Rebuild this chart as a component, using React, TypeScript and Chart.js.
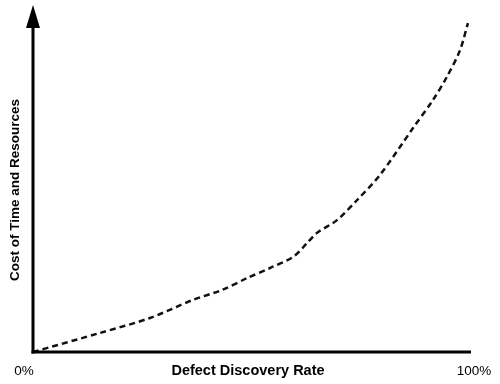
import React, { useEffect, useRef } from "react";
import { Chart, registerables } from "chart.js";

Chart.register(...registerables);

// Defect discovery rate (%) and relative cost (0-100)
const discoveryRate = [0, 15.3, 26.7, 36.5, 43.2, 48.9, 54.1, 59.4, 62.6, 64.8, 69.4, 74.0, 79.2, 86.8, 91.3, 94.5, 97.5, 99.3];
const costValues = [0, 5.5, 9.8, 15.0, 17.9, 21.3, 24.2, 27.4, 31.4, 34.3, 38.0, 43.8, 51.0, 64.6, 72.6, 79.3, 87.0, 94.8];
const xTickLabels = ["0%", "100%"];
const xTitle = "Defect Discovery Rate";
const yTitle = "Cost of Time and Resources";

const FONT = "'Liberation Sans', Arial, Helvetica, sans-serif";

const axesPlugin = {
  id: "customAxes",
  afterDraw(chart: any) {
    const { ctx, chartArea } = chart;
    const { left, right, top, bottom } = chartArea;
    ctx.save();
    ctx.strokeStyle = "#000";
    ctx.fillStyle = "#000";
    ctx.lineWidth = 3;
    // x axis
    ctx.beginPath();
    ctx.moveTo(left - 1.5, bottom);
    ctx.lineTo(right, bottom);
    ctx.stroke();
    // y axis
    ctx.beginPath();
    ctx.moveTo(left, bottom + 1.5);
    ctx.lineTo(left, top + 20);
    ctx.stroke();
    // arrow head
    ctx.beginPath();
    ctx.moveTo(left, top);
    ctx.lineTo(left - 7, top + 23);
    ctx.lineTo(left + 7, top + 23);
    ctx.closePath();
    ctx.fill();

    // tick labels
    ctx.font = `13.5px ${FONT}`;
    ctx.textBaseline = "middle";
    ctx.textAlign = "center";
    ctx.fillText(xTickLabels[0], left - 9, bottom + 19);
    ctx.fillText(xTickLabels[1], right + 3, bottom + 19);

    // x title
    ctx.font = `bold 14.5px ${FONT}`;
    ctx.fillText(xTitle, 248, bottom + 19);

    // y title
    ctx.font = `bold 13.5px ${FONT}`;
    ctx.translate(left - 18, 190);
    ctx.rotate(-Math.PI / 2);
    ctx.fillText(yTitle, 0, 0);
    ctx.restore();
  },
};

export default function App() {
  const ref = useRef<HTMLCanvasElement>(null);
  useEffect(() => {
    if (!ref.current) return;
    const chart = new Chart(ref.current, {
      type: "line",
      data: {
        datasets: [
          {
            data: discoveryRate.map((x, i) => ({ x, y: costValues[i] })),
            borderColor: "#111",
            borderWidth: 2.5,
            borderDash: [6, 4],
            pointRadius: 0,
            tension: 0.3,
            fill: false,
            clip: false as any,
          },
        ],
      },
      options: {
        responsive: false,
        animation: false,
        layout: { padding: { left: 33, right: 29, top: 5, bottom: 32 } },
        plugins: { legend: { display: false }, tooltip: { enabled: false } },
        scales: {
          x: { type: "linear", min: 0, max: 100, display: false },
          y: { min: 0, max: 100, display: false },
        },
      },
      plugins: [axesPlugin],
    });
    return () => chart.destroy();
  }, []);
  return (
    <div style={{ position: "fixed", left: 0, top: 0, width: 500, height: 384, background: "#fff" }}>
      <canvas ref={ref} width={500} height={384} />
    </div>
  );
}
